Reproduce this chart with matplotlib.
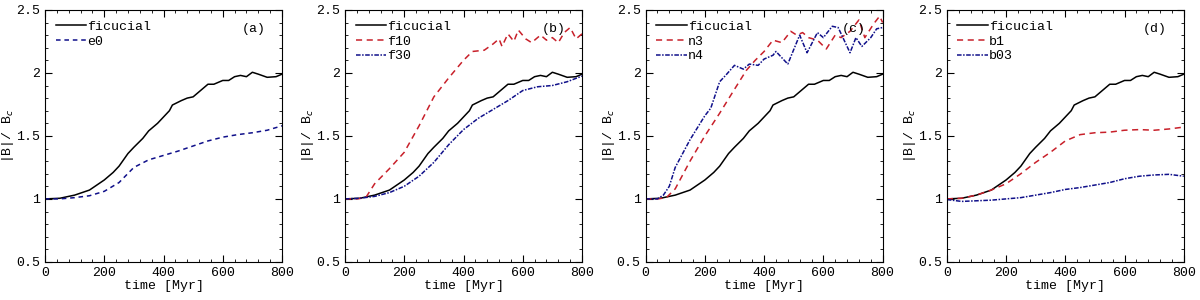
import matplotlib
matplotlib.use('Agg')
import matplotlib.pyplot as plt
from matplotlib.ticker import MultipleLocator

plt.rcParams['font.family'] = ['Liberation Mono', 'DejaVu Sans Mono']
plt.rcParams['font.size'] = 9
plt.rcParams['mathtext.fontset'] = 'custom'
plt.rcParams['mathtext.rm'] = 'Liberation Mono'

RED = '#c8202a'
BLUE = '#10108a'

# fiducial run (same in all panels)
t_fid = [0, 50, 100, 150, 200, 230, 250, 280, 300, 330, 350, 380, 400, 420, 430, 460,
         480, 500, 520, 550, 570, 600, 620, 640, 660, 680, 700, 720, 750, 780, 800]
b_fid = [1.0, 1.005, 1.03, 1.07, 1.15, 1.21, 1.26, 1.36, 1.41, 1.48, 1.54, 1.60, 1.65,
         1.70, 1.745, 1.78, 1.80, 1.81, 1.85, 1.91, 1.91, 1.94, 1.94, 1.97, 1.98, 1.97,
         2.005, 1.99, 1.965, 1.97, 1.99]

# panel (a)
t_e0 = [0, 50, 100, 150, 200, 250, 300, 350, 400, 450, 500, 550, 600, 650, 700, 750, 800]
b_e0 = [1.0, 1.0, 1.01, 1.025, 1.06, 1.13, 1.25, 1.31, 1.345, 1.38, 1.42, 1.46, 1.49,
        1.51, 1.525, 1.545, 1.58]

# panel (b)
t_f10 = [0, 40, 70, 100, 150, 200, 250, 300, 350, 400, 430, 470, 500, 520, 530, 550,
         570, 585, 610, 630, 660, 680, 700, 720, 740, 760, 780, 800]
b_f10 = [1.0, 1.0, 1.01, 1.12, 1.24, 1.37, 1.58, 1.81, 1.96, 2.10, 2.17, 2.18, 2.23,
         2.27, 2.21, 2.31, 2.25, 2.34, 2.27, 2.24, 2.30, 2.26, 2.28, 2.24, 2.32, 2.36,
         2.27, 2.31]
t_f30 = [0, 50, 100, 150, 200, 250, 300, 350, 400, 450, 500, 550, 600, 650, 700, 750, 800]
b_f30 = [1.0, 1.005, 1.02, 1.05, 1.10, 1.18, 1.29, 1.43, 1.55, 1.64, 1.71, 1.78, 1.86,
         1.89, 1.90, 1.93, 1.975]

# panel (c)
t_n3 = [0, 40, 70, 100, 150, 200, 250, 300, 340, 370, 400, 430, 460, 490, 510, 530,
        550, 580, 610, 640, 660, 690, 720, 740, 770, 790, 800]
b_n3 = [1.0, 1.0, 1.01, 1.08, 1.30, 1.50, 1.68, 1.87, 2.02, 2.10, 2.17, 2.26, 2.24,
        2.33, 2.30, 2.32, 2.28, 2.26, 2.19, 2.30, 2.28, 2.33, 2.42, 2.28, 2.39, 2.45, 2.40]
t_n4 = [0, 40, 60, 80, 100, 150, 200, 220, 250, 270, 300, 330, 350, 380, 400, 430, 440,
        480, 520, 545, 580, 600, 630, 650, 690, 710, 730, 760, 780, 800]
b_n4 = [1.0, 1.0, 1.03, 1.10, 1.25, 1.47, 1.66, 1.72, 1.93, 1.98, 2.06, 2.03, 2.07,
        2.06, 2.11, 2.14, 2.17, 2.07, 2.30, 2.16, 2.32, 2.28, 2.37, 2.36, 2.16, 2.28,
        2.21, 2.28, 2.35, 2.36]

# panel (d)
t_b1 = [0, 50, 100, 150, 200, 250, 300, 350, 400, 450, 500, 550, 600, 650, 700, 750, 800]
b_b1 = [1.0, 1.005, 1.03, 1.07, 1.12, 1.20, 1.29, 1.37, 1.46, 1.51, 1.525, 1.53, 1.545,
        1.55, 1.545, 1.555, 1.57]
t_b03 = [0, 50, 100, 150, 200, 250, 300, 350, 400, 450, 500, 550, 600, 650, 700, 750, 800]
b_b03 = [0.995, 0.98, 0.985, 0.99, 1.0, 1.01, 1.03, 1.05, 1.075, 1.09, 1.11, 1.13, 1.16,
         1.18, 1.19, 1.195, 1.18]

panels = [
    ('(a)', [('e0', t_e0, b_e0, BLUE, (0, (3, 2.5)))]),
    ('(b)', [('f10', t_f10, b_f10, RED, (0, (4, 3))),
             ('f30', t_f30, b_f30, BLUE, (0, (3, 1, 1, 1)))]),
    ('(c)', [('n3', t_n3, b_n3, RED, (0, (4, 3))),
             ('n4', t_n4, b_n4, BLUE, (0, (3, 1, 1, 1)))]),
    ('(d)', [('b1', t_b1, b_b1, RED, (0, (4, 3))),
             ('b03', t_b03, b_b03, BLUE, (0, (3, 1, 1, 1)))]),
]

fig = plt.figure(figsize=(12, 3), dpi=100)
lefts = [0.0375, 0.2875, 0.538, 0.789]

for left, (tag, runs) in zip(lefts, panels):
    ax = fig.add_axes([left, 0.127, 0.1975, 0.84])
    ax.plot(t_fid, b_fid, color='black', lw=1.1, label='ficucial')
    for name, t, b, c, ls in runs:
        ax.plot(t, b, color=c, lw=1.1, linestyle=ls, label=name)
    ax.set_xlim(0, 800)
    ax.set_ylim(0.5, 2.5)
    ax.xaxis.set_major_locator(MultipleLocator(200))
    ax.xaxis.set_minor_locator(MultipleLocator(40))
    ax.yaxis.set_major_locator(MultipleLocator(0.5))
    ax.yaxis.set_minor_locator(MultipleLocator(0.1))
    ax.set_yticks([0.5, 1, 1.5, 2, 2.5])
    ax.set_yticklabels(['0.5', '1', '1.5', '2', '2.5'])
    ax.tick_params(which='both', direction='in', top=True, right=True, labelsize=9.5)
    ax.tick_params(which='major', length=5, width=0.8)
    ax.tick_params(which='minor', length=2.5, width=0.6)
    ax.set_xlabel('time [Myr]', labelpad=1, fontsize=9.5)
    ax.set_ylabel(r'|B|/ B$_c$', labelpad=0, fontsize=9.5)
    ax.text(0.93, 0.95, tag, transform=ax.transAxes, ha='right', va='top', fontsize=9.5)
    ax.legend(loc='upper left', frameon=False, handlelength=2.3, handletextpad=0.1,
              labelspacing=0.2, borderaxespad=0.4, fontsize=9.5)

plt.savefig('out.png', dpi=100)
